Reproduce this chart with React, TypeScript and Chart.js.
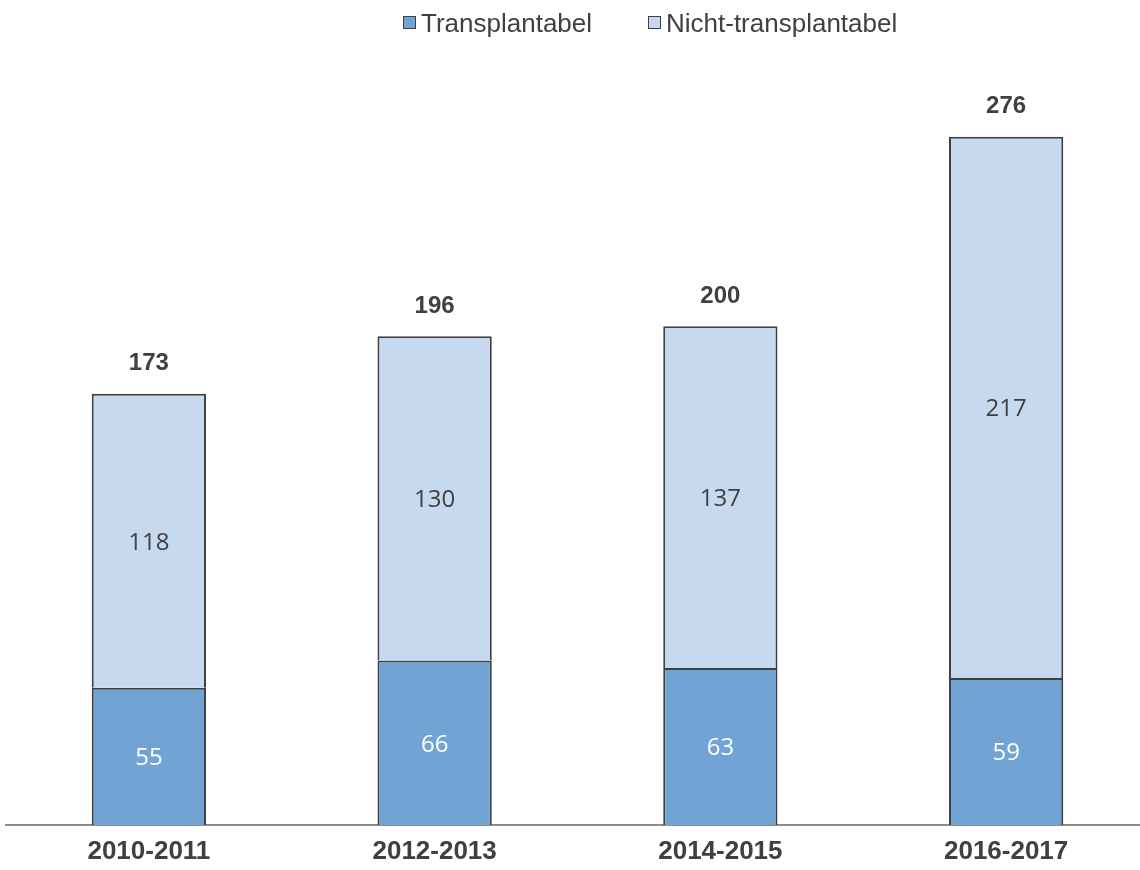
import React, { useEffect, useRef } from "react";
import { Chart, registerables } from "chart.js";

Chart.register(...registerables);

const categories = ["2010-2011", "2012-2013", "2014-2015", "2016-2017"];
const transplantabel = [55, 66, 63, 59];
const nichtTransplantabel = [118, 130, 137, 217];
const totals = [173, 196, 200, 276];
const seriesNames = ["Transplantabel", "Nicht-transplantabel"];
const seriesColors = ["#71A4D4", "#C6D9EF"];
const insideLabelColors = ["#FFFFFF", "#404040"];
const yMax = 300;

const TEXT = "#404040";
const SANS = "'Liberation Sans', Arial, sans-serif";

const valueLabels = {
  id: "valueLabels",
  afterDatasetsDraw(chart: any) {
    const ctx = chart.ctx;
    ctx.save();
    ctx.textAlign = "center";
    ctx.textBaseline = "middle";
    chart.data.datasets.forEach((ds: any, di: number) => {
      const meta = chart.getDatasetMeta(di);
      meta.data.forEach((bar: any, i: number) => {
        const p = bar.getProps(["x", "y", "base"], true);
        ctx.font = "24px 'Open Sans', 'Noto Sans', sans-serif";
        ctx.fillStyle = insideLabelColors[di];
        ctx.fillText(String(ds.data[i]), p.x, (p.y + p.base) / 2 + 2);
      });
    });
    const topMeta = chart.getDatasetMeta(chart.data.datasets.length - 1);
    ctx.font = "bold 24px " + SANS;
    ctx.fillStyle = TEXT;
    topMeta.data.forEach((bar: any, i: number) => {
      const p = bar.getProps(["x", "y"], true);
      ctx.fillText(String(totals[i]), p.x, p.y - 30);
    });
    ctx.restore();
  },
};

export default function App() {
  const ref = useRef<HTMLCanvasElement | null>(null);

  useEffect(() => {
    if (!ref.current) return;
    const chart = new Chart(ref.current, {
      type: "bar",
      data: {
        labels: categories,
        datasets: [
          {
            label: seriesNames[0],
            data: transplantabel,
            backgroundColor: seriesColors[0],
            borderColor: "#404040",
            borderWidth: 2,
            borderSkipped: "bottom",
          },
          {
            label: seriesNames[1],
            data: nichtTransplantabel,
            backgroundColor: seriesColors[1],
            borderColor: "#404040",
            borderWidth: 2,
            borderSkipped: "bottom",
          },
        ],
      },
      options: {
        responsive: false,
        animation: false,
        devicePixelRatio: 1,
        layout: { padding: { left: 6, right: 1, top: 77, bottom: 0 } },
        datasets: { bar: { barPercentage: 0.4, categoryPercentage: 1 } },
        plugins: {
          legend: { display: false },
          tooltip: { enabled: false },
        },
        scales: {
          x: {
            stacked: true,
            grid: { display: false, drawTicks: false },
            border: { display: true, color: "#8C8C8C", width: 2 },
            ticks: {
              color: TEXT,
              padding: 11,
              font: { family: SANS, size: 26, weight: "bold" },
            },
            afterFit(scale: any) {
              scale.height = 45;
            },
          },
          y: {
            stacked: true,
            display: false,
            min: 0,
            max: yMax,
          },
        },
      },
      plugins: [valueLabels],
    });
    return () => chart.destroy();
  }, []);

  const legendItem = (i: number, left: number) => (
    <div
      key={i}
      style={{
        position: "absolute",
        left,
        top: 8,
        height: 30,
        display: "flex",
        alignItems: "center",
      }}
    >
      <div
        style={{
          width: 11,
          height: 11,
          background: seriesColors[i],
          border: "1px solid #404040",
          marginRight: 5,
          marginTop: -2,
        }}
      />
      <span style={{ font: "26px " + SANS, color: TEXT, lineHeight: "30px", whiteSpace: "nowrap" }}>
        {seriesNames[i]}
      </span>
    </div>
  );

  return (
    <div
      style={{
        position: "fixed",
        left: 0,
        top: 0,
        width: 1140,
        height: 870,
        overflow: "hidden",
        background: "#FFFFFF",
      }}
    >
      <canvas ref={ref} width={1150} height={870} style={{ position: "absolute", left: 0, top: 0, width: 1150, height: 870 }} />
      {legendItem(0, 403)}
      {legendItem(1, 648)}
    </div>
  );
}
